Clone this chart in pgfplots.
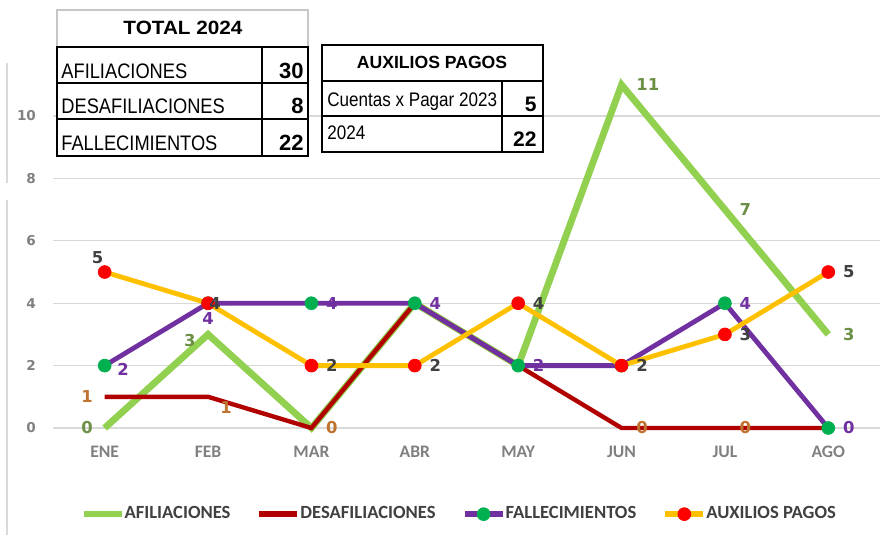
\documentclass[border=0pt]{standalone}
\usepackage{pgfplots}
\pgfplotsset{compat=1.18}
\usepackage{fontspec}
\setmainfont{Liberation Sans}
\newfontfamily\calfont{Carlito}
\newfontfamily\dvfont{DejaVu Sans}
\newfontfamily\tabfont[FakeStretch=0.87]{Liberation Sans}
\definecolor{cGreen}{HTML}{92D050}
\definecolor{cRed}{HTML}{B00000}
\definecolor{cPurple}{HTML}{7030A0}
\definecolor{cYellow}{HTML}{FFC000}
\definecolor{mGreen}{HTML}{00B050}
\definecolor{mRed}{HTML}{FF0000}
\definecolor{lGreen}{HTML}{6A8F45}
\definecolor{lOrange}{HTML}{C0722F}
\definecolor{lGray}{HTML}{404040}
\definecolor{gridc}{HTML}{D9D9D9}
\definecolor{tickc}{HTML}{808080}
\newcommand{\lblfont}{\dvfont\bfseries\fontsize{8.2}{9}\selectfont}
\pgfplotsset{
  lab/.style={draw=none, mark=none, forget plot, nodes near coords,
    every node near coord/.append style={font=\lblfont, text=#1, inner sep=0pt}},
  R/.style={every node near coord/.append style={anchor=west, xshift=7.2pt}},
  L/.style={every node near coord/.append style={anchor=east, xshift=-5.8pt}},
}
\begin{document}
\begin{tikzpicture}
\useasboundingbox (0,0) rectangle (445pt,-267.5pt);
\begin{axis}[
  at={(26.5pt,-214pt)}, anchor=south west,
  scale only axis, width=413.5pt, height=182.5pt,
  xmin=-0.5, xmax=7.5, ymin=0, ymax=11.7,
  clip=false,
  /pgf/number format/assume math mode=true,
  axis line style={draw=none},
  major tick length=0pt,
  xtick={0,...,7},
  xticklabels={ENE,FEB,MAR,ABR,MAY,JUN,JUL,AGO},
  ytick={0,2,...,10},
  ymajorgrids, grid style={gridc, line width=0.6pt},
  xticklabel style={font=\calfont\bfseries\fontsize{8.8}{10}\selectfont, text=tickc, yshift=-5.5pt},
  yticklabel style={font=\dvfont\bfseries\fontsize{6.8}{8}\selectfont, text=tickc, xshift=-5pt},
  legend columns=4,
  legend style={at={(0.49,-0.236)}, anchor=center, draw=none, fill=none,
    font=\calfont\bfseries\fontsize{9.3}{11}\selectfont, text=lGray,
    nodes={inner xsep=0pt},
    /tikz/every even column/.append style={column sep=13pt},
    /tikz/every odd column/.append style={column sep=0pt}},
  legend image code/.code={\draw[mark repeat=2,mark phase=2,#1,line width=3pt] plot coordinates {(0pt,0pt) (9.5pt,0pt) (19pt,0pt)};},
]
\addplot[cGreen, line width=3.4pt, mark=none] coordinates {(0,0) (1,3) (2,0) (3,4) (4,2) (5,11) (6,7) (7,3)};
\addlegendentry{AFILIACIONES}
\addplot[cRed, line width=2.2pt, mark=none] coordinates {(0,1) (1,1) (2,0) (3,4) (4,2) (5,0) (6,0) (7,0)};
\addlegendentry{DESAFILIACIONES}
\addplot[cPurple, line width=2.4pt, mark=*, mark size=3.2pt, mark options={fill=mGreen, draw=mGreen, line width=0.4pt}] coordinates {(0,2) (1,4) (2,4) (3,4) (4,2) (5,2) (6,4) (7,0)};
\addlegendentry{FALLECIMIENTOS}
\addplot[cYellow, line width=2.4pt, mark=*, mark size=3.2pt, mark options={fill=mRed, draw=mRed, line width=0.4pt}] coordinates {(0,5) (1,4) (2,2) (3,2) (4,4) (5,2) (6,3) (7,5)};
\addlegendentry{AUXILIOS PAGOS}
% labels AFILIACIONES
\addplot[lab=lGreen, L] coordinates {(0,0)};
\addplot[lab=lGreen, every node near coord/.append style={anchor=east, xshift=-6pt, yshift=-3pt}] coordinates {(1,3)};
\addplot[lab=lGreen, R] coordinates {(5,11) (6,7) (7,3)};
% labels DESAFILIACIONES
\addplot[lab=lOrange, L] coordinates {(0,1)};
\addplot[lab=lOrange, every node near coord/.append style={anchor=west, xshift=6pt, yshift=-5.5pt}] coordinates {(1,1)};
\addplot[lab=lOrange, R] coordinates {(2,0) (5,0) (6,0)};
% labels FALLECIMIENTOS
\addplot[lab=cPurple, every node near coord/.append style={anchor=west, xshift=6.2pt, yshift=-2pt}] coordinates {(0,2)};
\addplot[lab=cPurple, every node near coord/.append style={anchor=north, yshift=-4.5pt}] coordinates {(1,4)};
\addplot[lab=cPurple, R] coordinates {(2,4) (3,4) (4,2) (6,4) (7,0)};
% labels AUXILIOS PAGOS
\addplot[lab=lGray, every node near coord/.append style={anchor=south, xshift=-3.5pt, yshift=4pt}] coordinates {(0,5)};
\addplot[lab=lGray, every node near coord/.append style={anchor=center, xshift=3.5pt}] coordinates {(1,4)};
\addplot[lab=lGray, R] coordinates {(2,2) (3,2) (4,4) (5,2) (6,3) (7,5)};
\end{axis}
\begin{scope}[x=0.5pt, y=-0.5pt]
% left border line
\draw[gridc, line width=0.6pt] (7,63) -- (7,183);
\draw[gridc, line width=0.6pt] (7,200) -- (7,535);
% TOTAL 2024 table
\fill[white] (57,10) rectangle (308,156);
\draw[black!22, line width=0.6pt] (57,10) rectangle (308,47);
\draw[black, line width=1pt] (57,47) rectangle (308,156);
\draw[black, line width=1pt] (57,83) -- (308,83) (57,119) -- (308,119) (262,47) -- (262,156);
\node[anchor=base, inner sep=0pt, font=\bfseries\fontsize{9.6}{11}\selectfont, xscale=1.08] at (183,35) {TOTAL 2024};
\node[anchor=base west, inner sep=0pt, font=\tabfont\fontsize{10.5}{12}\selectfont] at (61,79) {AFILIACIONES};
\node[anchor=base west, inner sep=0pt, font=\tabfont\fontsize{10.5}{12}\selectfont] at (61,114) {DESAFILIACIONES};
\node[anchor=base west, inner sep=0pt, font=\tabfont\fontsize{10.5}{12}\selectfont] at (61,151) {FALLECIMIENTOS};
\node[anchor=base east, inner sep=0pt, font=\bfseries\fontsize{11}{12}\selectfont] at (304,79) {30};
\node[anchor=base east, inner sep=0pt, font=\bfseries\fontsize{11}{12}\selectfont] at (304,114) {8};
\node[anchor=base east, inner sep=0pt, font=\bfseries\fontsize{11}{12}\selectfont] at (304,151) {22};
% AUXILIOS PAGOS table
\fill[white] (322,45) rectangle (543,152);
\draw[black, line width=1pt] (322,45) rectangle (543,152);
\draw[black, line width=1pt] (322,81) -- (543,81) (322,116) -- (543,116) (502,81) -- (502,152);
\node[anchor=base, inner sep=0pt, font=\bfseries\fontsize{8.8}{10}\selectfont] at (432,69) {AUXILIOS PAGOS};
\node[anchor=base west, inner sep=0pt, font=\tabfont\fontsize{9.8}{11}\selectfont] at (327,107) {Cuentas x Pagar 2023};
\node[anchor=base west, inner sep=0pt, font=\tabfont\fontsize{9.8}{11}\selectfont] at (327,140) {2024};
\node[anchor=base east, inner sep=0pt, font=\bfseries\fontsize{10.5}{12}\selectfont] at (537,112) {5};
\node[anchor=base east, inner sep=0pt, font=\bfseries\fontsize{10.5}{12}\selectfont] at (537,147) {22};
\end{scope}
\end{tikzpicture}
\end{document}
